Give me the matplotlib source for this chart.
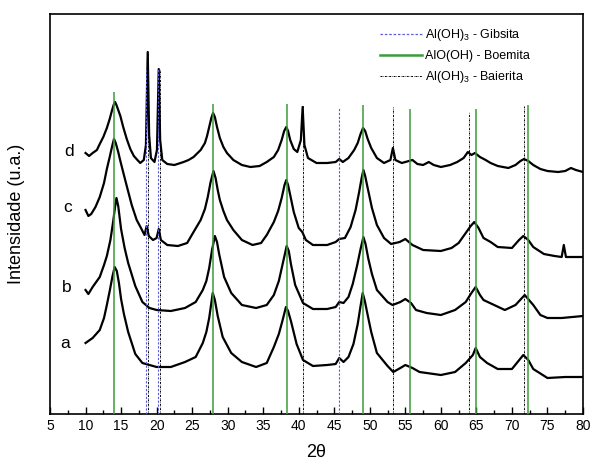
import matplotlib
matplotlib.use("Agg")
import matplotlib.pyplot as plt
from matplotlib.lines import Line2D
from matplotlib.ticker import MultipleLocator, NullLocator

plt.rcParams["font.family"] = ["Liberation Sans", "DejaVu Sans"]
plt.rcParams["mathtext.fontset"] = "custom"
plt.rcParams["mathtext.rm"] = "Liberation Sans"

# sample d (top trace)
tt_d = [10, 10.5, 11, 11.6, 12, 12.5, 13, 13.4, 13.7, 13.95, 14.15, 14.35, 14.6, 14.9, 15.3,
        15.8, 16.3, 16.8, 17.3, 17.7, 18.2, 18.5, 18.75, 18.95, 19.2, 19.7, 20.05, 20.3,
        20.5, 20.8, 21.5, 22.5, 23.8, 24.5, 25.2, 26.2, 26.8, 27.1, 27.4, 27.7, 27.95,
        28.2, 28.5, 28.9, 29.4, 29.9, 30.8, 32, 33.2, 34.5, 35.5, 36.5, 37.1, 37.6, 37.95,
        38.25, 38.5, 38.8, 39.3, 39.8, 40.3, 40.55, 40.8, 41.3, 42.5, 44, 45.2, 45.7, 46.2,
        47, 47.8, 48.3, 48.7, 49.05, 49.35, 49.7, 50.2, 51, 52, 52.9, 53.25, 53.6, 54.5,
        55.5, 56, 56.7, 57.5, 58.3, 59, 60, 61.3, 62.3, 63.2, 63.8, 64.3, 64.8, 65.5, 66.3,
        67, 68, 69.5, 70.5, 71.2, 71.7, 72.3, 73, 74, 75, 76.5, 77.5, 78.3, 79, 80]
int_d = [261, 258, 261, 264, 270, 277, 286, 295, 303, 309, 312, 309, 304, 298, 287,
         275, 265, 258, 254, 251, 254, 269, 362, 279, 256, 252, 264, 345,
         274, 254, 250, 249, 252, 254, 257, 264, 271, 278, 287, 296, 301,
         297, 287, 276, 267, 261, 254, 249, 247, 248, 252, 257, 264, 274, 283,
         287, 283, 274, 265, 262, 274, 307, 269, 256, 251, 251, 252, 255, 252,
         256, 264, 271, 280, 286, 283, 275, 266, 256, 251, 254, 266, 254, 251,
         253, 254, 250, 249, 252, 249, 247, 249, 252, 256, 262, 259, 261, 257, 254,
         251, 248, 246, 249, 253, 255, 253, 249, 245, 243, 242, 243, 246, 244, 242]

# sample c
tt_c = [10, 10.4, 10.8, 11.4, 12, 12.6, 13, 13.4, 13.75, 14.0, 14.25, 14.6, 14.9, 15.4,
        15.8, 16.5, 17.2, 17.8, 18.3, 18.6, 18.9, 19.5, 20.0, 20.3, 20.6, 21.5, 23, 24.3,
        25.2, 26.2, 26.8, 27.2, 27.6, 28.0, 28.3, 28.6, 28.9, 29.4, 29.9, 30.8, 32, 33.5,
        34.7, 35.5, 36.5, 37.1, 37.6, 38.0, 38.25, 38.5, 38.8, 39.3, 40, 40.5, 41, 42, 44,
        45.2, 45.7, 46.5, 47.3, 48, 48.5, 48.85, 49.1, 49.35, 49.7, 50.3, 51, 52, 53, 54.2,
        55, 56, 57.5, 60, 61.5, 62.5, 63.5, 64.2, 64.7, 65.3, 66, 67, 68, 70, 71, 71.6,
        72.3, 73, 74.5, 76, 77, 77.3, 77.6, 78.5, 80]
int_c = [204, 198, 200, 207, 217, 231, 245, 257, 268, 275, 271, 262, 253, 239,
         228, 209, 194, 186, 179, 188, 178, 174, 176, 185, 174, 169, 168, 171,
         182, 194, 205, 217, 232, 243, 236, 224, 214, 203, 194, 184, 174, 169,
         171, 179, 192, 203, 216, 229, 234, 229, 219, 202, 186, 182, 174, 169, 169,
         172, 175, 176, 187, 204, 222, 236, 244, 238, 226, 206, 189, 176, 170, 172,
         175, 169, 164, 163, 166, 171, 181, 188, 192, 186, 176, 172, 167, 166, 174, 178,
         174, 167, 160, 158, 157, 169, 157, 157, 157]

# sample b
tt_b = [10, 10.4, 11, 12, 12.6, 13, 13.5, 13.9, 14.15, 14.35, 14.6, 15.0, 15.5, 16, 17,
        18, 19, 20, 22, 24, 25.5, 26.5, 27.0, 27.4, 27.8, 28.2, 28.5, 28.8, 29.5, 30.5, 32,
        34, 35.5, 36.5, 37.2, 37.8, 38.3, 38.6, 38.9, 39.5, 40.6, 42, 44, 45.2, 45.7, 46.3,
        47, 47.6, 48.2, 48.7, 49.1, 49.4, 49.8, 50.3, 51, 52.5, 53.2, 54.3, 55, 55.8,
        56.5, 58, 60, 62, 63.5, 64.3, 64.9, 65.5, 66, 67.5, 69, 70.5, 71.8, 73, 74, 75,
        77, 78.5, 80]
int_b = [124, 120, 127, 137, 149, 158, 174, 193, 207, 216, 208, 185, 166, 151, 128,
         112, 106, 104, 103, 106, 112, 124, 133, 146, 164, 178, 172, 160, 137, 121, 109,
         106, 109, 119, 133, 152, 168, 163, 150, 129, 111, 105, 105, 107, 112, 111,
         117, 130, 148, 165, 177, 170, 155, 140, 124, 112, 109, 112, 115, 111,
         104, 101, 99, 104, 112, 121, 127, 119, 114, 109, 104, 109, 119, 109, 99, 96,
         96, 97, 98]

# sample a (bottom trace)
tt_a = [10, 11, 12, 12.6, 13, 13.4, 13.8, 14.1, 14.4, 14.7, 15.0, 15.4, 16, 17, 18, 20,
        22, 24, 25.5, 26.5, 27.0, 27.4, 27.9, 28.2, 28.6, 29.3, 30.5, 32, 34, 35.5, 36.5,
        37.2, 37.7, 38.2, 38.5, 38.9, 39.7, 40.6, 42, 44, 45.2, 45.7, 46.3, 47, 47.7, 48.3,
        48.7, 49.0, 49.3, 49.7, 50.2, 51, 52.5, 53.3, 54.3, 55, 56, 57, 60, 62, 63.5, 64.5,
        64.9, 65.5, 66.5, 68, 70, 71.6, 72.3, 73, 75, 77.5, 80]
int_a = [71, 76, 84, 96, 109, 123, 138, 147, 143, 131, 115, 100, 82, 60, 51, 47,
         47, 52, 57, 71, 82, 96, 121, 114, 98, 77, 61, 52, 47, 51, 67,
         80, 93, 107, 103, 93, 70, 54, 48, 49, 50, 56, 52, 57, 70, 90,
         108, 121, 113, 99, 82, 61, 48, 42, 46, 49, 46, 42, 39, 42, 51, 59,
         66, 57, 51, 45, 45, 59, 54, 45, 36, 37, 37]

labels = ["a", "b", "c", "d"]
label_pos = [(7.1, 71), (7.4, 126), (7.55, 206), (7.7, 262)]

# reference lines: position (2theta) and line top
gib_pos = [18.45, 20.25, 45.7]
gib_top = [344, 345, 307]
boe_pos = [14.05, 27.98, 38.3, 49.05, 55.65, 64.9, 72.25]
boe_top = [322, 310, 310, 309, 305, 305, 309]
bay_pos = [18.83, 20.48, 40.65, 53.3, 63.95, 71.7]
bay_top = [362, 345, 309, 307, 302, 308]

green = "#3a9c3a"
blue = "#5a5ae0"

fig = plt.figure(figsize=(5.92, 4.61), dpi=100)
ax = fig.add_axes([50 / 592, 47 / 461, 533 / 592, 400 / 461])

for tt, ii in [(tt_a, int_a), (tt_b, int_b), (tt_c, int_c), (tt_d, int_d)]:
    ax.plot(tt, ii, color="black", lw=1.6, zorder=2)

ax.vlines(boe_pos, 0, boe_top, color=green, lw=1.1, zorder=3)
ax.vlines(gib_pos, 0, gib_top, color=blue, lw=0.8, linestyles=(0, (2, 1.5)), zorder=3)
ax.vlines(bay_pos, 0, bay_top, color="black", lw=0.7, linestyles=(0, (2, 1, 0.5, 1)), zorder=3)

for lab, (x, y) in zip(labels, label_pos):
    ax.text(x, y, lab, fontsize=12.5, ha="center", va="center")

handles = [
    Line2D([], [], color=blue, lw=0.9, ls=(0, (2, 1.5))),
    Line2D([], [], color=green, lw=1.8),
    Line2D([], [], color="black", lw=0.7, ls=(0, (2, 1, 0.5, 1))),
]
names = [r"Al(OH)$_3$ - Gibsita", "AlO(OH) - Boemita", r"Al(OH)$_3$ - Baierita"]
ax.legend(handles, names, loc="upper left", bbox_to_anchor=(0.62, 0.967), frameon=False,
          fontsize=9, handlelength=3.3, handletextpad=0.3, labelspacing=0.55,
          borderpad=0, borderaxespad=0)

ax.set_xlim(5, 80)
ax.set_ylim(0, 400)
ax.xaxis.set_major_locator(MultipleLocator(5))
ax.xaxis.set_minor_locator(MultipleLocator(2.5))
ax.yaxis.set_major_locator(NullLocator())
ax.tick_params(axis="x", which="both", direction="in", top=False, labelsize=10, width=1)
ax.tick_params(axis="x", which="major", length=5)
ax.tick_params(axis="x", which="minor", length=3)
for s in ax.spines.values():
    s.set_linewidth(1.2)

ax.set_xlabel("2θ", fontsize=13, labelpad=8)
ax.set_ylabel("Intensidade (u.a.)", fontsize=13, labelpad=18)

fig.savefig("out.png", dpi=100)
